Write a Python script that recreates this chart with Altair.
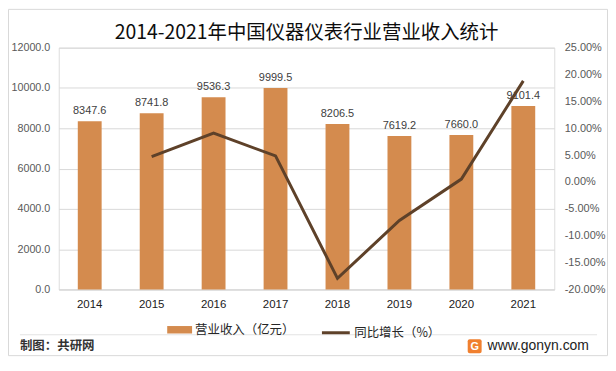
import altair as alt
import pandas as pd

# ---- data ----
years = ["2014", "2015", "2016", "2017", "2018", "2019", "2020", "2021"]
revenue = [8347.6, 8741.8, 9536.3, 9999.5, 8206.5, 7619.2, 7660.0, 9101.4]
growth = [None, 0.0472, 0.0909, 0.0486, -0.1793, -0.0716, 0.0054, 0.1882]
left_ticks = [0, 2000, 4000, 6000, 8000, 10000, 12000]
right_ticks = [-0.20, -0.15, -0.10, -0.05, 0.0, 0.05, 0.10, 0.15, 0.20, 0.25]

title_text = "2014-2021年中国仪器仪表行业营业收入统计"
bar_name = "营业收入（亿元）"
line_name = "同比增长（%）"
source_text = "制图：共研网"
site_text = "www.gonyn.com"

BAR = "#D48B4E"
LINE = "#5E4129"
GRID = "#D9D9D9"
CJK = "Noto Sans CJK SC"
LAT = "Liberation Sans"

df = pd.DataFrame({"year": years, "revenue": revenue, "growth": growth})
df["s1"] = bar_name
df["s2"] = line_name

PL = 51           # left padding -> view origin at page x 59
W, H = 498, 243
dx = 59           # page x of view origin (for placing decorations)

x_enc = alt.X(
    "year:N",
    sort=years,
    scale=alt.Scale(paddingInner=0.615, paddingOuter=0.3075),
    axis=alt.Axis(title=None, labelAngle=0, labelFont=LAT, labelFontSize=11.5,
                  labelColor="#1A1A1A", labelPadding=9, ticks=False,
                  domainColor=GRID, grid=False),
)

left_scale = alt.Scale(domain=[0, 12000], nice=False, zero=True)
left_axis = alt.Axis(title=None, values=left_ticks, format=".1f",
                     labelFont=LAT, labelFontSize=10.8, labelColor="#595959",
                     labelPadding=9, ticks=False, domain=False,
                     grid=True, gridColor=GRID, orient="left")

bars = alt.Chart(df).mark_bar(color=BAR).encode(
    x=x_enc,
    y=alt.Y("revenue:Q", scale=left_scale, axis=left_axis),
    color=alt.Color("s1:N", scale=alt.Scale(domain=[bar_name], range=[BAR]),
                    legend=alt.Legend(orient="none", legendX=168 - dx, legendY=271,
                                      title=None, padding=0,
                                      symbolType="M-1,-0.3H1V0.3H-1Z",
                                      symbolSize=625, symbolStrokeWidth=0,
                                      labelFont=CJK, labelFontSize=12.5,
                                      labelColor="#262626", labelOffset=3)),
)

labels = alt.Chart(df).mark_text(baseline="bottom", dy=-5, font=LAT,
                                 fontSize=11, color="#404040").encode(
    x=x_enc,
    y=alt.Y("revenue:Q", scale=left_scale, axis=left_axis),
    text=alt.Text("revenue:Q", format=".1f"),
)

left_layer = alt.layer(bars, labels)

line = alt.Chart(df).transform_filter("isValid(datum.growth)").mark_line(
    strokeWidth=3, strokeJoin="miter").encode(
    x=x_enc,
    y=alt.Y("growth:Q", scale=alt.Scale(domain=[-0.2, 0.25], nice=False, zero=False),
            axis=alt.Axis(title=None, values=right_ticks, orient="right",
                          labelExpr="replace(format(datum.value, '.2%'), '\u2212', '-')",
                          labelFont=LAT, labelFontSize=11, labelColor="#595959",
                          labelPadding=10, ticks=False, domain=False, grid=False)),
    stroke=alt.Stroke("s2:N", scale=alt.Scale(domain=[line_name], range=[LINE]),
                      legend=alt.Legend(orient="none", legendX=322 - dx, legendY=271,
                                        title=None, padding=0, symbolType="stroke",
                                        symbolSize=784, symbolStrokeWidth=3,
                                        labelFont=CJK, labelFontSize=12.5,
                                        labelColor="#262626", labelOffset=3)),
)

deco = pd.DataFrame({"a": [0]})

border = alt.Chart(deco).mark_rect(fillOpacity=0, stroke=GRID, strokeWidth=1).encode(
    x=alt.value(8.5 - dx), x2=alt.value(610.5 - dx), y=alt.value(-38.5), y2=alt.value(309.5))

title = alt.Chart(deco).mark_text(align="center", baseline="middle", font=CJK,
                                  fontSize=19.5, color="#0D0D0D").encode(
    x=alt.value(308 - dx), y=alt.value(-15), text=alt.value(title_text))

sep = alt.Chart(deco).mark_rule(color="#E3E3E3", strokeWidth=1).encode(
    x=alt.value(20 - dx), x2=alt.value(600 - dx), y=alt.value(288.5))

src = alt.Chart(deco).mark_text(align="left", baseline="middle", font=CJK,
                                fontSize=12.5, fontWeight="bold", color="#333333").encode(
    x=alt.value(20 - dx), y=alt.value(300), text=alt.value(source_text))

logo = alt.Chart(deco).mark_rect(color="#F0802F", cornerRadius=2).encode(
    x=alt.value(470 - dx), x2=alt.value(484 - dx), y=alt.value(293), y2=alt.value(307))

logo_g = alt.Chart(deco).mark_text(align="center", baseline="middle", font=LAT,
                                   fontSize=11, fontWeight="bold", color="white").encode(
    x=alt.value(477 - dx), y=alt.value(300.5), text=alt.value("G"))

site = alt.Chart(deco).mark_text(align="left", baseline="middle", font=LAT,
                                 fontSize=14, color="#222222").encode(
    x=alt.value(490 - dx), y=alt.value(300), text=alt.value(site_text))

chart = alt.layer(
    border, sep, left_layer, line, title, src, logo, logo_g, site
).resolve_scale(
    y="independent", color="independent", stroke="independent"
).properties(
    width=W, height=H,
    autosize=alt.AutoSizeParams(type="none"),
    padding={"left": PL, "top": 39, "right": 54, "bottom": 68},
).configure_view(stroke=None).configure(background="white")

chart.save("out.html", embed_options={"renderer": "svg", "actions": False})
